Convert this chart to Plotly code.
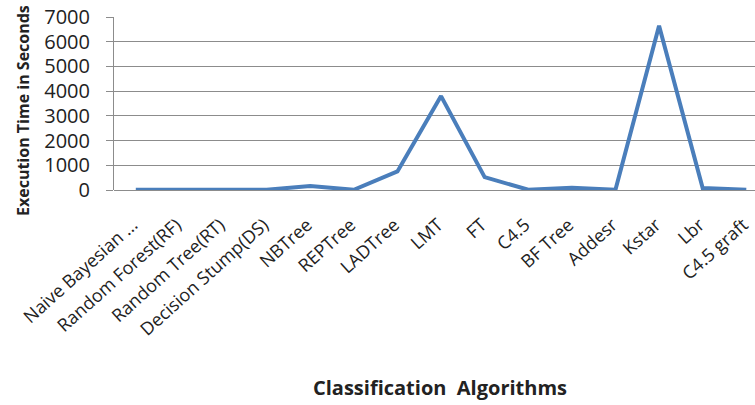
import plotly.graph_objects as go

algorithms = ["Naive Bayesian ...", "Random Forest(RF)", "Random Tree(RT)", "Decision Stump(DS)",
              "NBTree", "REPTree", "LADTree", "LMT", "FT", "C4.5", "BF Tree", "Addesr",
              "Kstar", "Lbr", "C4.5 graft"]
exec_time = [10, 10, 10, 10, 160, 10, 750, 3800, 520, 10, 90, 10, 6650, 80, 10]
y_ticks = [0, 1000, 2000, 3000, 4000, 5000, 6000, 7000]

W, H = 755, 405
left, right, top, bottom = 114, 0, 17, 215

fig = go.Figure()
fig.add_trace(go.Scatter(
    x=list(range(len(algorithms))), y=exec_time, mode="lines",
    line=dict(color="#4A7EBB", width=4), showlegend=False, hoverinfo="skip"))

font_family = "Open Sans, DejaVu Sans, sans-serif"
fig.update_layout(
    width=W, height=H,
    margin=dict(l=left, r=right, t=top, b=bottom, pad=0, autoexpand=False),
    paper_bgcolor="white", plot_bgcolor="white",
    font=dict(family=font_family, color="#222222"),
    xaxis=dict(
        tickmode="array", tickvals=list(range(len(algorithms))), ticktext=algorithms,
        tickangle=-42, range=[-0.5, 14.2], showgrid=False, zeroline=False,
        showline=False, ticks="", tickfont=dict(size=18, color="#222222"),
        automargin=False, ticklabelstandoff=20, ticklabelshift=-3, ticklabeloverflow="allow",
    ),
    yaxis=dict(
        range=[0, 7000], tickvals=y_ticks, showgrid=True, gridcolor="#8c8c8c", gridwidth=1,
        zeroline=True, zerolinecolor="#8c8c8c", zerolinewidth=1,
        showline=True, linecolor="#8c8c8c", linewidth=1,
        ticks="outside", ticklen=7, tickcolor="#8c8c8c",
        tickfont=dict(size=20, color="#222222"), automargin=False, ticklabelstandoff=12,
    ),
    annotations=[
        dict(text="<b>Execution Time in Seconds</b>", x=23, y=H - 110, xref="paper", yref="paper",
             showarrow=False, textangle=-90, font=dict(size=16, color="#222222"),
             xanchor="center", yanchor="middle"),
        dict(text="<b>Classification  Algorithms</b>", x=440, y=H - 387, xref="paper", yref="paper",
             showarrow=False, font=dict(size=20, color="#222222"),
             xanchor="center", yanchor="middle"),
    ],
)

# convert pixel annotation positions to paper coords
pw = W - left - right
ph = H - top - bottom
for a in fig.layout.annotations:
    a.x = (a.x - left) / pw
    a.y = (a.y - bottom) / ph

fig.write_html("out.html", config={"displayModeBar": False},
               post_script="document.body.style.margin='0';")
